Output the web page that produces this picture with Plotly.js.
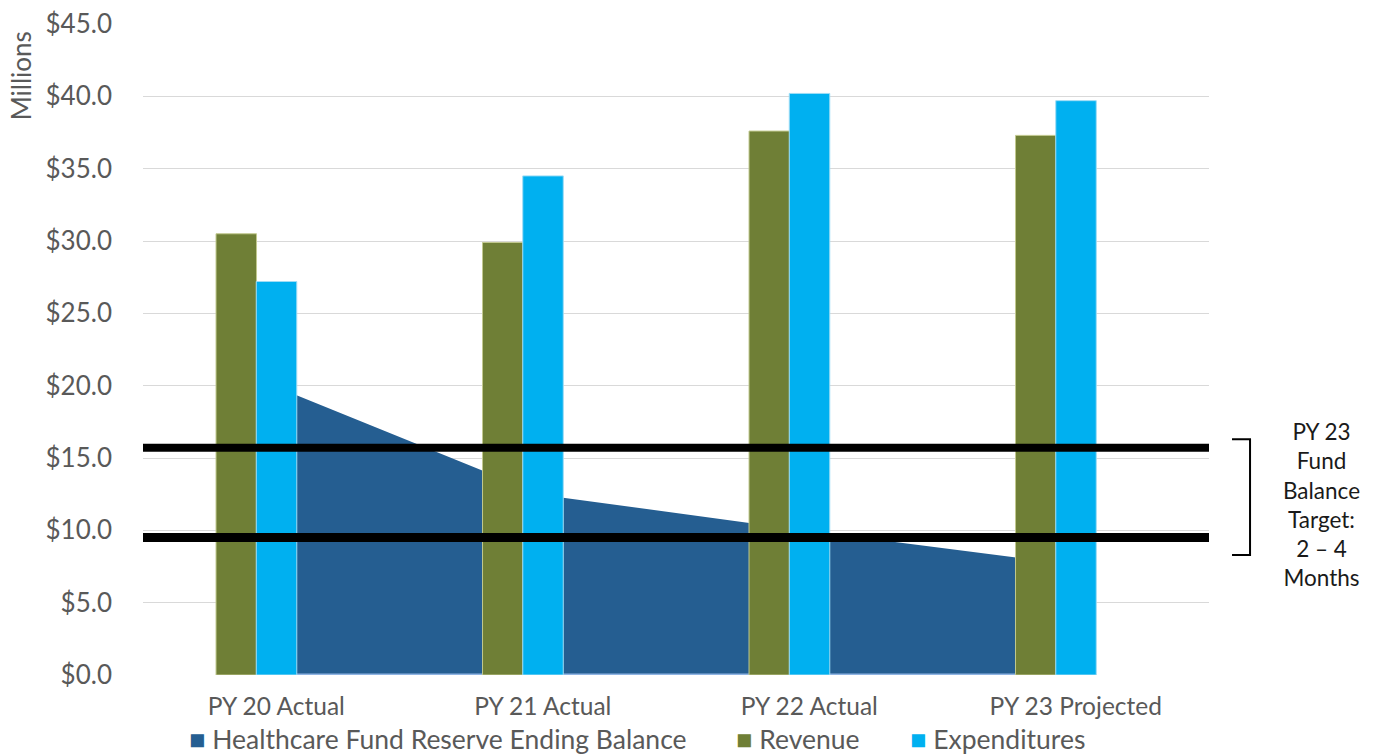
<!DOCTYPE html>
<html>
<head>
<meta charset="utf-8">
<script src="https://cdn.plot.ly/plotly-3.0.1.min.js"></script>
<style>
  html, body { margin: 0; padding: 0; background: #ffffff; }
  #chart { width: 1376px; height: 754px; }
</style>
</head>
<body>
<div id="chart"></div>
<script>
// Plan years shown on the category axis
const years = ["PY 20 Actual", "PY 21 Actual", "PY 22 Actual", "PY 23 Projected"];

// Values in millions of dollars
const reserveBalance = [19.9, 12.45, 9.95, 7.6];
const revenue = [30.5, 29.9, 37.6, 37.3];
const expenditures = [27.2, 34.5, 40.2, 39.7];

// Fund balance target band (2 to 4 months of expenditures)
const targetLow = 9.5;
const targetHigh = 15.7;

const seriesNames = ["Healthcare Fund Reserve Ending Balance", "Revenue", "Expenditures"];
const seriesColors = ["#255e91", "#6f7f36", "#00b0f0"];

const FONT = "Lato, 'Open Sans', sans-serif";
const GREY = "#595959";

const traces = [
  {
    type: "scatter",
    mode: "lines",
    name: seriesNames[0],
    x: years,
    y: reserveBalance,
    fill: "tozeroy",
    fillcolor: seriesColors[0],
    line: { color: seriesColors[0], width: 0 },
    showlegend: false,
    hoverinfo: "x+y",
    zorder: 0
  },
  {
    // thin outline along the base of the reserve area
    type: "scatter",
    mode: "lines",
    x: [years[0], years[years.length - 1]],
    y: [0, 0],
    line: { color: "#8fb4e3", width: 3 },
    showlegend: false,
    hoverinfo: "skip",
    zorder: 0
  },
  {
    type: "bar",
    name: seriesNames[1],
    x: years,
    y: revenue,
    width: 0.152,
    offset: -0.226,
    marker: { color: seriesColors[1], line: { color: "#c2c98f", width: 1 } },
    showlegend: false,
    zorder: 1
  },
  {
    type: "bar",
    name: seriesNames[2],
    x: years,
    y: expenditures,
    width: 0.152,
    offset: -0.075,
    marker: { color: seriesColors[2], line: { color: "#9fdcf5", width: 1 } },
    showlegend: false,
    zorder: 1
  }
];

// Legend drawn as a row of coloured squares with labels
const legendY = -0.097;
const legendItems = [
  { x: 0.041, text: seriesNames[0], color: seriesColors[0] },
  { x: 0.554, text: seriesNames[1], color: seriesColors[1] },
  { x: 0.718, text: seriesNames[2], color: seriesColors[2] }
];

const annotations = [
  {
    text: "Millions",
    xref: "paper", yref: "paper",
    x: -0.1145, y: 0.921,
    xanchor: "center", yanchor: "middle",
    textangle: -90,
    showarrow: false,
    font: { family: FONT, size: 26, color: GREY }
  },
  {
    text: "PY 23<br>Fund<br>Balance<br>Target:<br>2 – 4<br>Months",
    xref: "paper", yref: "paper",
    x: 1.106, y: 0.262,
    xanchor: "center", yanchor: "middle",
    align: "center",
    showarrow: false,
    font: { family: FONT, size: 22.5, color: "#1a1a1a" }
  }
];

legendItems.forEach(item => {
  annotations.push({
    text: "<span style='color:" + item.color + ";font-size:27px'>■ </span>" + item.text,
    xref: "paper", yref: "paper",
    x: item.x, y: legendY,
    xanchor: "left", yanchor: "middle",
    showarrow: false,
    font: { family: FONT, size: 26.5, color: GREY }
  });
});

const layout = {
  width: 1376,
  height: 754,
  paper_bgcolor: "#ffffff",
  plot_bgcolor: "#ffffff",
  margin: { l: 143, r: 167, t: 24, b: 79 },
  showlegend: false,
  barmode: "overlay",
  font: { family: FONT, color: GREY },
  xaxis: {
    type: "category",
    categoryorder: "array",
    categoryarray: years,
    range: [-0.5, years.length - 0.5],
    showgrid: false,
    zeroline: false,
    showline: false,
    ticks: "",
    ticklabelstandoff: 14,
    tickfont: { family: FONT, size: 24.5, color: GREY }
  },
  yaxis: {
    range: [0, 45],
    dtick: 5,
    tick0: 0,
    tickprefix: "$",
    tickformat: ".1f",
    showgrid: true,
    gridcolor: "#d9d9d9",
    gridwidth: 1,
    zeroline: false,
    showline: false,
    ticks: "",
    ticklabelstandoff: 30,
    tickfont: { family: FONT, size: 26, color: GREY }
  },
  shapes: [
    {
      type: "line", layer: "above",
      xref: "paper", yref: "y",
      x0: 0, x1: 1, y0: targetHigh, y1: targetHigh,
      line: { color: "#000000", width: 8 }
    },
    {
      type: "line", layer: "above",
      xref: "paper", yref: "y",
      x0: 0, x1: 1, y0: targetLow, y1: targetLow,
      line: { color: "#000000", width: 9 }
    },
    {
      // bracket grouping the two target lines
      type: "path", layer: "above",
      xref: "paper", yref: "y",
      path: "M 1.0216,16.3 L 1.0385,16.3 L 1.0385,8.3 L 1.0216,8.3",
      line: { color: "#000000", width: 2 }
    }
  ],
  annotations: annotations
};

Plotly.newPlot("chart", traces, layout, { displayModeBar: false, staticPlot: true });
</script>
</body>
</html>
